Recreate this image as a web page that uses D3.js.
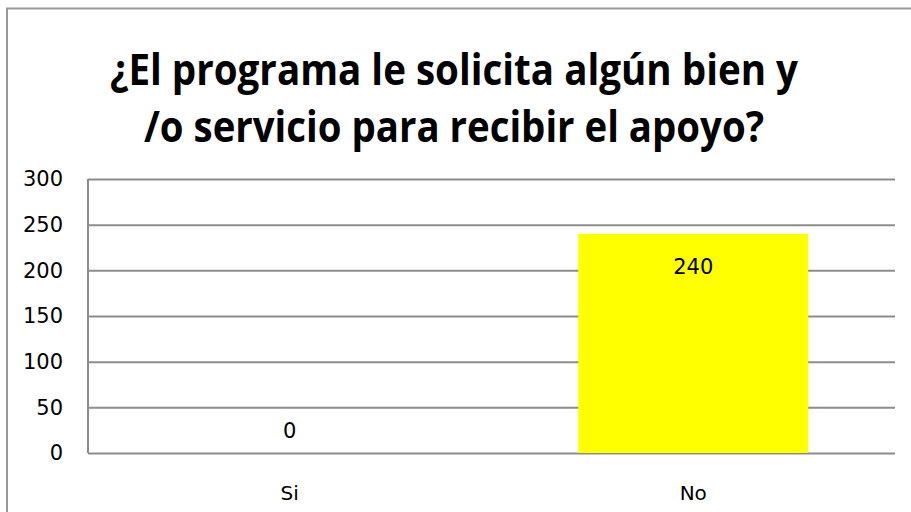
<!DOCTYPE html>
<html>
<head>
<meta charset="utf-8">
<script src="https://cdn.jsdelivr.net/npm/d3@7"></script>
<style>
  body { margin: 0; background: #fff; }
  text { font-family: 'DejaVu Sans', sans-serif; }
</style>
</head>
<body>
<svg id="chart"></svg>
<script>
var categories = ['Si', 'No'];
var values = [0, 240];
var yTicks = [0, 50, 100, 150, 200, 250, 300];
var titleLines = ['¿El programa le solicita algún bien y', '/o servicio para recibir el apoyo?'];
var titleWidths = [688, 620];

var W = 911, H = 512;
var margin = {top: 179, right: 16, bottom: 59, left: 88};
var width = W - margin.left - margin.right;
var height = H - margin.top - margin.bottom;

var svg = d3.select('#chart')
  .attr('width', W)
  .attr('height', H);

// outer frame
svg.append('rect')
  .attr('x', 7)
  .attr('y', 8.5)
  .attr('width', 920)
  .attr('height', 520)
  .style('fill', 'none')
  .style('stroke', '#999')
  .style('stroke-width', 2);

svg.selectAll('.title')
  .data(titleLines)
  .enter()
  .append('text')
  .attr('class', 'title')
  .attr('x', 454)
  .attr('y', function(d, i) { return 85 + i * 57; })
  .attr('textLength', function(d, i) { return titleWidths[i]; })
  .attr('lengthAdjust', 'spacingAndGlyphs')
  .style('text-anchor', 'middle')
  .style('font-family', "'Open Sans', sans-serif")
  .style('font-weight', 'bold')
  .style('font-size', '43px')
  .text(function(d) { return d; });

var g = svg.append('g')
  .attr('transform', 'translate(' + margin.left + ',' + margin.top + ')');

var x = d3.scaleBand()
  .domain(categories)
  .range([0, width])
  .paddingInner(0.43)
  .paddingOuter(0.215);

var y = d3.scaleLinear()
  .domain([0, 300])
  .range([height, 0]);

var yAxis = d3.axisLeft(y)
  .tickValues(yTicks)
  .tickSize(-width)
  .tickSizeOuter(0)
  .tickPadding(25);

var yAxisGroup = g.append('g')
  .attr('class', 'axis y')
  .call(yAxis);

yAxisGroup.select('.domain').remove();
yAxisGroup.selectAll('.tick line')
  .style('stroke', '#8c8c8c')
  .style('stroke-width', 2);
yAxisGroup.selectAll('.tick text')
  .style('font-family', "'DejaVu Sans', sans-serif")
  .style('font-size', '21px')
  .style('fill', '#000');

g.append('line')
  .attr('x1', 0)
  .attr('x2', 0)
  .attr('y1', 0)
  .attr('y2', height)
  .style('stroke', '#8c8c8c')
  .style('stroke-width', 2);

g.selectAll('.bar')
  .data(values)
  .enter()
  .append('rect')
  .attr('class', 'bar')
  .attr('x', function(d, i) { return x(categories[i]); })
  .attr('y', function(d) { return y(d); })
  .attr('width', x.bandwidth())
  .attr('height', function(d) { return height - y(d); })
  .style('fill', '#ffff00');

g.selectAll('.val')
  .data(values)
  .enter()
  .append('text')
  .attr('class', 'val')
  .attr('x', function(d, i) { return x(categories[i]) + x.bandwidth() / 2; })
  .attr('y', function(d) { return y(d) + 40; })
  .style('text-anchor', 'middle')
  .style('font-size', '21px')
  .text(function(d) { return d; });

// zero value label sits above the axis
g.selectAll('.val')
  .filter(function(d) { return d === 0; })
  .attr('y', y(0) - 15);

g.selectAll('.cat')
  .data(categories)
  .enter()
  .append('text')
  .attr('class', 'cat')
  .attr('x', function(d) { return x(d) + x.bandwidth() / 2; })
  .attr('y', height + 47)
  .style('text-anchor', 'middle')
  .style('font-size', '20px')
  .text(function(d) { return d; });
</script>
</body>
</html>
